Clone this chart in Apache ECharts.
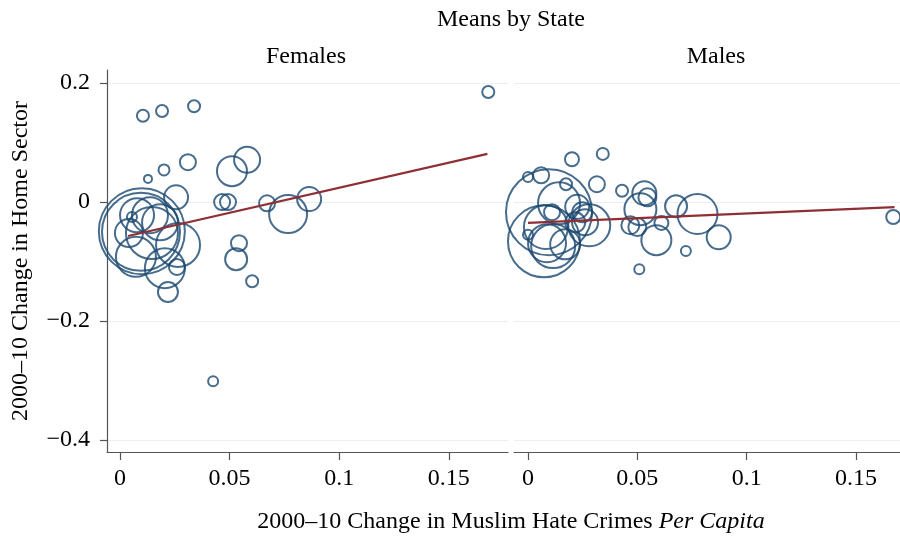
<!DOCTYPE html>
<html>
<head>
<meta charset="utf-8">
<script src="https://cdn.jsdelivr.net/npm/echarts@6/dist/echarts.min.js"></script>
<style>
  html, body { margin: 0; padding: 0; background: #fff; }
  #chart { width: 900px; height: 536px; }
</style>
</head>
<body>
<div id="chart"></div>
<script>
// State means: change in hate crimes per capita (x), change in home sector (y), bubble diameter (weight)
const femX = [0.0105, 0.0192, 0.0338, 0.0128, 0.0201, 0.031, 0.0511, 0.058, 0.0466, 0.0493,
              0.0256, 0.0671, 0.0767, 0.0863, 0.0543, 0.053, 0.0603, 0.0219, 0.0425, 0.168,
              0.010, 0.0096, 0.0078, 0.0137, 0.0055, 0.0041, 0.0146, 0.0073, 0.0265, 0.0205,
              0.026, 0.0183];
const femY = [0.145, 0.153, 0.161, 0.039, 0.054, 0.067, 0.052, 0.071, 0.0, 0.0,
              0.008, -0.002, -0.020, 0.005, -0.069, -0.096, -0.133, -0.151, -0.301, 0.185,
              -0.049, -0.050, -0.022, -0.022, -0.025, -0.052, -0.052, -0.092, -0.072, -0.111,
              -0.109, -0.034];
const femW = [12, 12, 12, 8, 11, 16, 30, 26, 16, 16,
              24, 16, 38, 24, 16, 22, 12, 20, 10, 12,
              86, 78, 34, 36, 10, 28, 52, 40, 44, 40,
              16, 36];

const maleX = [0.0201, 0.0342, 0.0, 0.006, 0.0096, 0.0174, 0.0315, 0.043, 0.0142, 0.0073,
               0.0082, 0.0, 0.011, 0.0087, 0.017, 0.0225, 0.0248, 0.028, 0.0261, 0.0216,
               0.0532, 0.0546, 0.0514, 0.0468, 0.050, 0.061, 0.0587, 0.0677, 0.0775, 0.0872,
               0.0722, 0.0509, 0.167, 0.0115];
const maleY = [0.072, 0.081, 0.042, 0.045, -0.017, 0.030, 0.030, 0.019, -0.002, -0.066,
               -0.042, -0.055, -0.017, -0.069, -0.071, -0.008, -0.017, -0.039, -0.034, -0.034,
               0.015, 0.008, -0.012, -0.039, -0.042, -0.035, -0.064, -0.007, -0.020, -0.059,
               -0.082, -0.113, -0.025, -0.074];
const maleW = [14, 12, 10, 16, 86, 12, 16, 12, 42, 72,
               44, 10, 16, 38, 30, 24, 20, 42, 26, 20,
               24, 18, 32, 18, 18, 14, 30, 22, 40, 24,
               10, 10, 14, 44];

// Fitted lines (endpoints)
const femFitX = [0.0037, 0.1676];
const femFitY = [-0.057, 0.081];
const maleFitX = [0.0, 0.1676];
const maleFitY = [-0.035, -0.0085];

const xTicks = [0, 0.05, 0.1, 0.15];
const yTicks = [-0.4, -0.2, 0, 0.2];
const panelTitles = ['Females', 'Males'];

const SERIF = '"Liberation Serif", "DejaVu Serif", serif';
const NAVY = '#1a476f';
const FIT = '#8f2f35';
const AXIS = '#555';
const FS = 24;

function fmt(v) {
  const s = String(Math.round(Math.abs(v) * 1000) / 1000);
  return (v < 0 ? '\u2212' : '') + s;
}
function pts(xs, ys, ws) {
  return xs.map((x, i) => [x, ys[i], ws ? ws[i] : 0]);
}

function xAxisFor(i, min, max) {
  return {
    type: 'value', gridIndex: i, min: min, max: max,
    axisLine: { show: true, onZero: false, lineStyle: { color: AXIS, width: 1.2 } },
    axisTick: { show: true, length: 8, customValues: xTicks, lineStyle: { color: AXIS, width: 1.2 } },
    axisLabel: { customValues: xTicks, formatter: fmt, fontFamily: SERIF, fontSize: FS, color: '#000', margin: 15 },
    splitLine: { show: false }
  };
}
function yAxisFor(i, showAxis) {
  return {
    type: 'value', gridIndex: i, min: -0.42, max: 0.222,
    axisLine: { show: showAxis, onZero: false, lineStyle: { color: AXIS, width: 1.2 } },
    axisTick: { show: showAxis, length: 7, customValues: yTicks, lineStyle: { color: AXIS, width: 1.2 } },
    axisLabel: { show: showAxis, customValues: yTicks, formatter: fmt, fontFamily: SERIF, fontSize: FS, color: '#000', margin: 17 },
    splitLine: { show: true, lineStyle: { color: '#e9eff2', width: 1.2 } },
    name: showAxis ? '2000\u201310 Change in Home Sector' : '',
    nameLocation: 'middle', nameGap: 74,
    nameTextStyle: { fontFamily: SERIF, fontSize: FS, color: '#000' }
  };
}

function bubbles(i, data) {
  return {
    type: 'scatter', xAxisIndex: i, yAxisIndex: i, clip: false,
    data: data,
    symbolSize: d => d[2],
    itemStyle: { color: 'rgba(0,0,0,0)', borderColor: NAVY, borderWidth: 2 },
    emphasis: { disabled: true },
    z: 2
  };
}
function fitLine(i, xs, ys) {
  return {
    type: 'line', xAxisIndex: i, yAxisIndex: i,
    data: pts(xs, ys), showSymbol: false, symbol: 'none',
    lineStyle: { color: FIT, width: 2.2 },
    z: 3
  };
}

const titleStyle = { fontFamily: SERIF, fontSize: FS, fontWeight: 'normal', color: '#000' };

const chart = echarts.init(document.getElementById('chart'), null, { renderer: 'canvas' });
chart.setOption({
  animation: false,
  backgroundColor: '#fff',
  title: [
    { text: 'Means by State', left: 506, top: 3, textAlign: 'center', textStyle: titleStyle },
    { text: panelTitles[0], left: 301, top: 40, textAlign: 'center', textStyle: titleStyle },
    { text: panelTitles[1], left: 711, top: 40, textAlign: 'center', textStyle: titleStyle },
    { text: '2000\u201310 Change in Muslim Hate Crimes {i|Per Capita}', left: 506, top: 505, textAlign: 'center',
      textStyle: Object.assign({}, titleStyle, {
        rich: { i: { fontFamily: SERIF, fontSize: FS, fontStyle: 'italic', color: '#000' } } }) }
  ],
  grid: [
    { left: 107, right: 392, top: 70, bottom: 84 },
    { left: 514, right: 0, top: 70, bottom: 84 }
  ],
  xAxis: [xAxisFor(0, -0.0059, 0.177), xAxisFor(1, -0.0064, 0.1701)],
  yAxis: [yAxisFor(0, true), yAxisFor(1, false)],
  series: [
    bubbles(0, pts(femX, femY, femW)),
    fitLine(0, femFitX, femFitY),
    bubbles(1, pts(maleX, maleY, maleW)),
    fitLine(1, maleFitX, maleFitY)
  ]
});
</script>
</body>
</html>
